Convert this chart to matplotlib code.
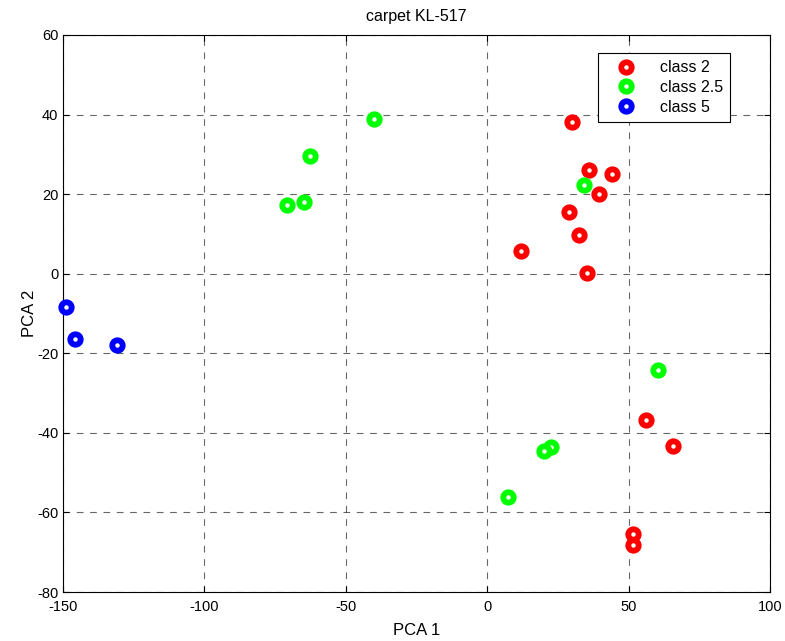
import numpy as np
import matplotlib.pyplot as plt

plt.rcParams['font.family'] = ['Liberation Sans', 'DejaVu Sans']
plt.rcParams['axes.unicode_minus'] = False

# class 2 (red)
x2 = [30.0, 36.0, 44.1, 39.5, 28.9, 32.5, 12.0, 35.3, 56.0, 65.7, 51.4, 51.4]
y2 = [38.1, 26.1, 25.1, 20.0, 15.5, 9.7, 5.7, 0.2, -36.8, -43.3, -65.3, -68.3]
# class 2.5 (green)
x25 = [-40.0, -62.7, -64.8, -70.8, 34.2, 60.4, 22.4, 20.1, 7.5]
y25 = [38.9, 29.6, 18.0, 17.3, 22.4, -24.2, -43.5, -44.5, -56.0]
# class 5 (blue)
x5 = [-148.9, -145.9, -130.9]
y5 = [-8.3, -16.5, -17.9]

labels = ['class 2', 'class 2.5', 'class 5']
colors = ['#ff0000', '#00ff00', '#0000ff']

fig = plt.figure(figsize=(7.85, 6.41), dpi=100)
ax = fig.add_axes([63/785, 1-592/641, 707/785, 557/641])

for xs, ys, c, lab in zip([x2, x25, x5], [y2, y25, y5], colors, labels):
    ax.plot(xs, ys, 'o', ms=7.5, mfc='white', mec=c, mew=4.2, label=lab,
            clip_on=False, zorder=5)

ax.set_xlim(-150, 100)
ax.set_ylim(-80, 60)
ax.set_xticks(np.arange(-150, 101, 50))
ax.set_yticks(np.arange(-80, 61, 20))
ax.grid(True, color='k', linestyle=(0, (6, 6)), linewidth=0.8, alpha=0.6)
ax.tick_params(direction='in', top=True, right=True, labelsize=10.5, length=4)
ax.tick_params(axis='x', pad=6)
for s in ax.spines.values():
    s.set_linewidth(0.8)

ax.set_title('carpet KL-517', fontsize=11.5, pad=10)
ax.set_xlabel('PCA 1', fontsize=12, labelpad=6)
ax.set_ylabel('PCA 2', fontsize=12, labelpad=0)

leg = ax.legend(loc='upper right', bbox_to_anchor=(0.955, 0.982), fontsize=11.5,
                fancybox=False, edgecolor='k', framealpha=1, handletextpad=0.9,
                handlelength=2.5, borderpad=0.45, labelspacing=0.3)
leg.get_frame().set_linewidth(0.8)

fig.savefig('out.png', dpi=100)
